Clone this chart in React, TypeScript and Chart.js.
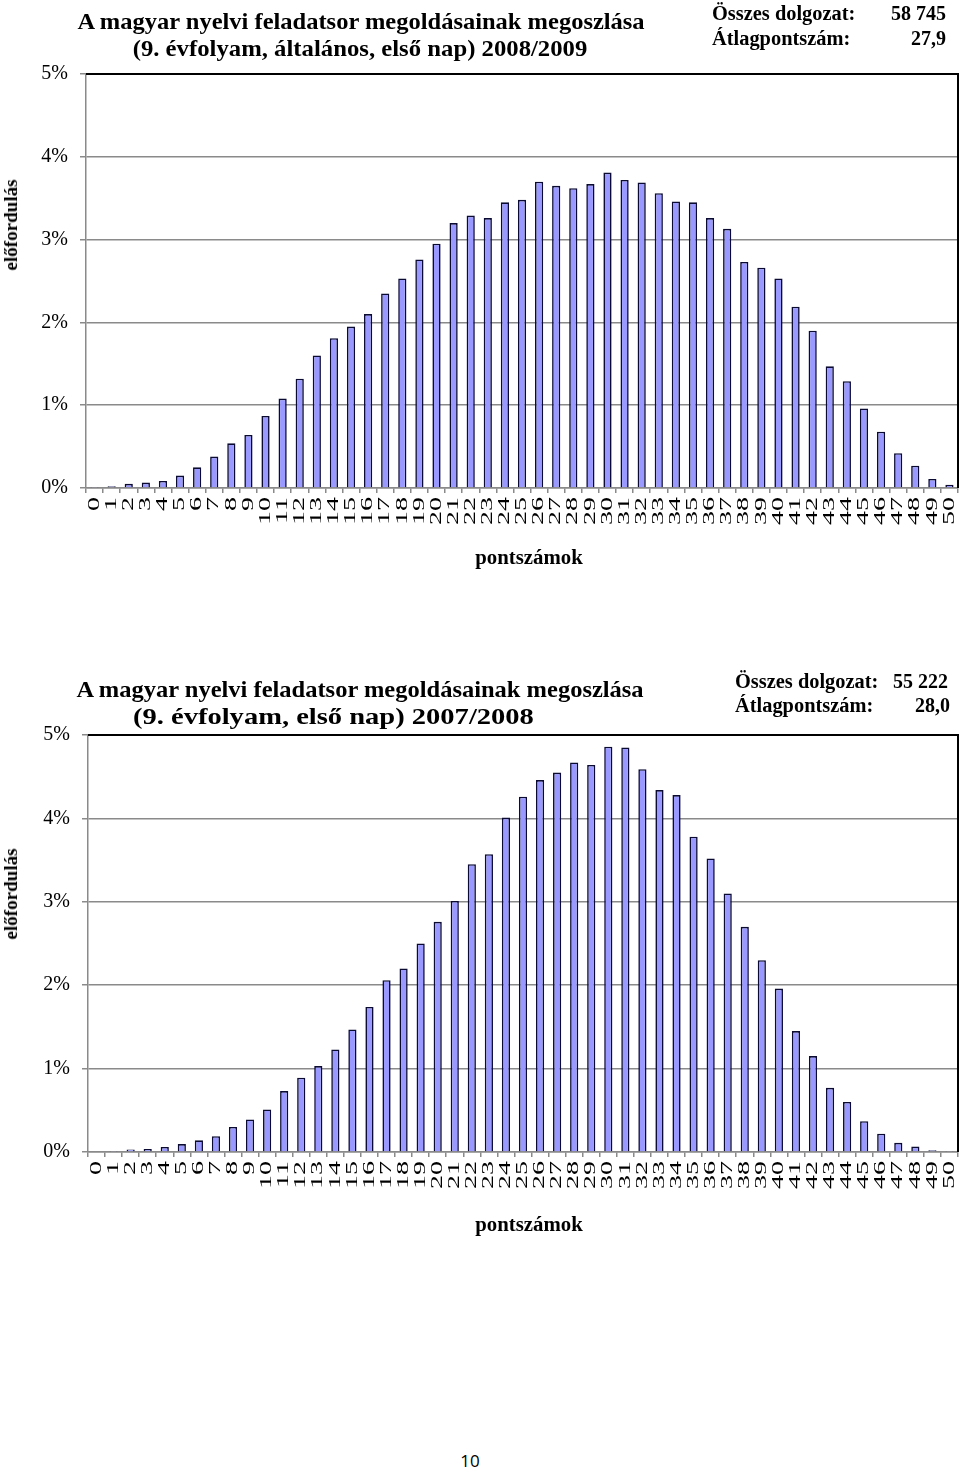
import React, { useEffect, useRef } from "react";
import { Chart, registerables } from "chart.js";

Chart.register(...registerables);

// ---------- data ----------
const SCORES = [
  "0", "1", "2", "3", "4", "5", "6", "7", "8", "9",
  "10", "11", "12", "13", "14", "15", "16", "17", "18", "19",
  "20", "21", "22", "23", "24", "25", "26", "27", "28", "29",
  "30", "31", "32", "33", "34", "35", "36", "37", "38", "39",
  "40", "41", "42", "43", "44", "45", "46", "47", "48", "49", "50",
];

// 2008/2009 distribution (% of papers)
const SHARE_2009 = [
  0.005, 0.02, 0.05, 0.065, 0.085, 0.15, 0.25, 0.38, 0.54, 0.64,
  0.87, 1.08, 1.32, 1.6, 1.81, 1.95, 2.1, 2.35, 2.53, 2.76,
  2.95, 3.2, 3.29, 3.26, 3.45, 3.48, 3.7, 3.65, 3.62, 3.67,
  3.81, 3.72, 3.69, 3.56, 3.46, 3.45, 3.26, 3.13, 2.73, 2.66,
  2.53, 2.19, 1.9, 1.47, 1.29, 0.96, 0.68, 0.42, 0.27, 0.11, 0.04,
];

// 2007/2008 distribution (% of papers)
const SHARE_2008 = [
  0.01, 0.005, 0.03, 0.035, 0.06, 0.095, 0.14, 0.19, 0.3, 0.39,
  0.51, 0.73, 0.89, 1.03, 1.23, 1.47, 1.74, 2.06, 2.2, 2.5,
  2.76, 3.01, 3.45, 3.57, 4.01, 4.26, 4.46, 4.55, 4.67, 4.64,
  4.86, 4.85, 4.59, 4.34, 4.28, 3.78, 3.52, 3.1, 2.7, 2.3,
  1.96, 1.45, 1.15, 0.77, 0.6, 0.37, 0.22, 0.11, 0.065, 0.02, 0.005,
];

const Y_MIN = 0;
const Y_MAX = 5;
const Y_STEP = 1;

const TITLE_LINE1 = "A magyar nyelvi feladatsor megoldásainak megoszlása";
const TITLE_2009 = "(9. évfolyam, általános, első nap) 2008/2009";
const TITLE_2008 = "(9. évfolyam, első nap) 2007/2008";
const TOTAL_LABEL = "Összes dolgozat:";
const AVG_LABEL = "Átlagpontszám:";
const TOTAL_2009 = "58 745";
const AVG_2009 = "27,9";
const TOTAL_2008 = "55 222";
const AVG_2008 = "28,0";
const X_TITLE = "pontszámok";
const Y_TITLE = "előfordulás";
const PAGE_NO = "10";

// ---------- styles ----------
const SERIF = "'Liberation Serif', 'Times New Roman', serif";
const GRID = "#8a8a8a";
const BAR_FILL = "#9999ff";
const BAR_EDGE = "#0a0a33";
const X_LABEL_SIZE = 16;
const X_LABEL_STRETCH = 1.75;
const X_LABEL_GAP = 4;

const framePlugin = {
  id: "frame",
  afterDraw(chart: any) {
    const { ctx, chartArea } = chart;
    ctx.save();
    ctx.strokeStyle = "#000";
    ctx.lineWidth = 2;
    ctx.beginPath();
    ctx.moveTo(chartArea.left, chartArea.top);
    ctx.lineTo(chartArea.right, chartArea.top);
    ctx.lineTo(chartArea.right, chartArea.bottom);
    ctx.stroke();
    ctx.restore();
  },
};

// draws the category labels of the x scale, rotated and stretched like the original
const stretchedTicksPlugin = {
  id: "stretchedTicks",
  afterDraw(chart: any) {
    const { ctx } = chart;
    const scale = chart.scales.x;
    const labels = chart.data.labels as string[];
    const tickLen = scale.options.grid.tickLength;
    ctx.save();
    ctx.fillStyle = "#000";
    ctx.font = `${X_LABEL_SIZE}px ${SERIF}`;
    ctx.textAlign = "right";
    ctx.textBaseline = "middle";
    scale.ticks.forEach((_t: any, i: number) => {
      const x = scale.getPixelForTick(i);
      const y = scale.top + tickLen + X_LABEL_GAP;
      ctx.save();
      ctx.translate(x, y);
      ctx.rotate(-Math.PI / 2);
      ctx.scale(X_LABEL_STRETCH, 1);
      ctx.fillText(labels[i], 0, 0);
      ctx.restore();
    });
    ctx.restore();
  },
};

type PanelProps = {
  values: number[];
  top: number;
  height: number;
  areaTop: number;
  areaBottom: number;
  areaLeft: number;
  areaRight: number;
};

function BarPanel({ values, top, height, areaTop, areaBottom, areaLeft, areaRight }: PanelProps) {
  const ref = useRef<HTMLCanvasElement | null>(null);
  useEffect(() => {
    if (!ref.current) return;
    const chart = new Chart(ref.current, {
      type: "bar",
      data: {
        labels: SCORES,
        datasets: [
          {
            data: values,
            backgroundColor: BAR_FILL,
            borderColor: BAR_EDGE,
            borderWidth: 1.6,
            barPercentage: 0.48,
            categoryPercentage: 1,
          },
        ],
      },
      options: {
        responsive: false,
        animation: false,
        devicePixelRatio: 1,
        layout: {
          padding: { top: areaTop - top, left: 0, right: 960 - areaRight, bottom: 0 },
        },
        plugins: {
          legend: { display: false },
          tooltip: { enabled: false },
          title: { display: false },
        },
        scales: {
          x: {
            grid: {
              drawOnChartArea: false,
              drawTicks: true,
              tickLength: 5,
              color: GRID,
              lineWidth: 1.5,
            },
            border: { color: GRID, width: 1.5 },
            ticks: { display: false, autoSkip: false },
            afterFit: (s: any) => {
              s.height = height - (areaBottom - top);
              s.paddingLeft = 0;
              s.paddingRight = 0;
            },
          },
          y: {
            min: Y_MIN,
            max: Y_MAX,
            ticks: {
              stepSize: Y_STEP,
              padding: 12,
              color: "#000",
              font: { family: SERIF, size: 20 },
              callback: (v: any) => `${v}%`,
            },
            grid: { color: GRID, lineWidth: 1.5, tickLength: 6 },
            border: { color: GRID, width: 1.5 },
            afterFit: (s: any) => {
              s.width = areaLeft;
            },
          },
        },
      },
      plugins: [framePlugin, stretchedTicksPlugin],
    } as any);
    return () => chart.destroy();
  }, [values, top, height, areaTop, areaBottom, areaLeft, areaRight]);

  return (
    <canvas
      ref={ref}
      width={960}
      height={height}
      style={{ position: "absolute", left: 0, top, width: 960, height }}
    />
  );
}

type TextProps = {
  x: number;
  y: number;
  text: string;
  size: number;
  bold?: boolean;
  align?: "left" | "center" | "right";
  family?: string;
  rotate?: boolean;
  sx?: number;
};

function Txt({ x, y, text, size, bold = true, align = "left", family = SERIF, rotate = false, sx = 1 }: TextProps) {
  const tx = align === "left" ? "0" : align === "center" ? "-50%" : "-100%";
  const origin = align === "left" ? "left center" : align === "center" ? "center center" : "right center";
  return (
    <div
      style={{
        position: "absolute",
        left: x,
        top: y,
        transform: rotate
          ? `translate(-50%, -50%) rotate(-90deg) scaleX(${sx})`
          : `translate(${tx}, -50%)`,
        fontFamily: family,
        fontSize: size,
        fontWeight: bold ? 700 : 400,
        lineHeight: 1,
        whiteSpace: "nowrap",
        color: "#000",
      }}
    >
      <span
        style={{
          display: "inline-block",
          transform: rotate ? undefined : `scaleX(${sx})`,
          transformOrigin: origin,
        }}
      >
        {text}
      </span>
    </div>
  );
}

export default function App() {
  return (
    <div
      style={{
        position: "absolute",
        left: 0,
        top: 0,
        width: 960,
        height: 1468,
        background: "#fff",
        overflow: "hidden",
      }}
    >
      <BarPanel
        values={SHARE_2009}
        top={0}
        height={600}
        areaTop={74}
        areaBottom={488}
        areaLeft={86}
        areaRight={958}
      />
      <BarPanel
        values={SHARE_2008}
        top={620}
        height={620}
        areaTop={735}
        areaBottom={1152}
        areaLeft={88}
        areaRight={958}
      />

      {/* chart 1 texts */}
      <Txt x={361} y={21} text={TITLE_LINE1} size={23} align="center" sx={1.065} />
      <Txt x={360} y={48} text={TITLE_2009} size={23} align="center" sx={1.075} />
      <Txt x={712} y={13} text={TOTAL_LABEL} size={20} sx={1.02} />
      <Txt x={946} y={13} text={TOTAL_2009} size={20} align="right" />
      <Txt x={712} y={38} text={AVG_LABEL} size={20} sx={1.02} />
      <Txt x={946} y={38} text={AVG_2009} size={20} align="right" />
      <Txt x={529} y={557} text={X_TITLE} size={20} align="center" sx={1.04} />
      <Txt x={11} y={225} text={Y_TITLE} size={18} rotate sx={1.06} />

      {/* chart 2 texts */}
      <Txt x={360} y={689} text={TITLE_LINE1} size={23} align="center" sx={1.065} />
      <Txt x={133} y={716} text={TITLE_2008} size={23} sx={1.24} />
      <Txt x={735} y={681} text={TOTAL_LABEL} size={20} sx={1.02} />
      <Txt x={948} y={681} text={TOTAL_2008} size={20} align="right" />
      <Txt x={735} y={705} text={AVG_LABEL} size={20} sx={1.02} />
      <Txt x={950} y={705} text={AVG_2008} size={20} align="right" />
      <Txt x={529} y={1224} text={X_TITLE} size={20} align="center" sx={1.04} />
      <Txt x={11} y={894} text={Y_TITLE} size={18} rotate sx={1.06} />

      <Txt
        x={470}
        y={1460}
        text={PAGE_NO}
        size={17}
        bold={false}
        align="center"
        family="'Open Sans', 'Liberation Sans', sans-serif"
      />
    </div>
  );
}
